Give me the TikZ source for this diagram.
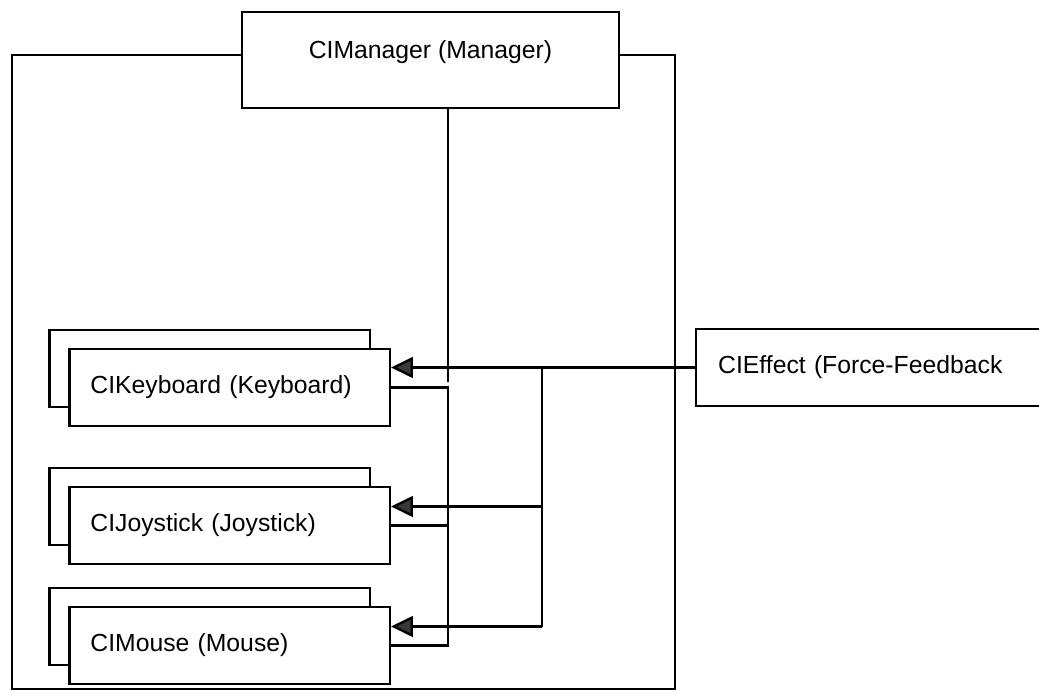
\documentclass[tikz,border=0pt]{standalone}
\usepackage{fontspec}
\setmainfont{Liberation Sans}
\usetikzlibrary{arrows.meta,positioning}

\tikzset{
    wire/.style={line width=1.7pt},
    feed/.style={wire,-{Triangle[length=0.55cm,width=0.52cm,fill=black!78]}},
    clsfront/.style={draw,line width=1.7pt,fill=white,
        minimum height=1.925cm,text width=6.96cm,inner xsep=0.525cm,
        align=left,font=\fontsize{17.6}{20}\selectfont},
    clsback/.style={draw,line width=1.7pt,fill=white,
        minimum width=8.0125cm,minimum height=1.925cm},
    mgrbox/.style={draw,line width=1.7pt,fill=white,
        minimum width=9.425cm,minimum height=2.4cm,text depth=14.5pt,
        font=\fontsize{17.6}{20}\selectfont},
    effbox/.style={draw,line width=1.7pt,fill=white,
        minimum height=1.925cm,text width=8.1cm,inner xsep=0.55cm,
        align=left,font=\fontsize{17.6}{20}\selectfont}
}

\begin{document}
\begin{tikzpicture}[scale=1]

\useasboundingbox (0,0) rectangle (25.975,17.4);

% Manager
\node[mgrbox] (mgr) at (10.7625,15.9) {CIManager (Manager)};

% Devices (stacked boxes)
\node[clsback] (kbdback) at (5.24,8.1875) {};
\node[clsfront] (kbd) at (5.74,7.7125) {CIKeyboard (Keyboard)};

\node[clsback] (joyback) at (5.24,4.7375) {};
\node[clsfront] (joy) at (5.74,4.2625) {CIJoystick (Joystick)};

\node[clsback] (mouseback) at (5.24,1.7375) {};
\node[clsfront] (mouse) at (5.74,1.2625) {CIMouse (Mouse)};

% Effect
\node[effbox,anchor=west] (eff) at (17.375,8.2125) {CIEffect (Force-Feedback};

% Outer loop round the devices
\coordinate (ll) at (0.3,0.175);
\coordinate (lr) at (16.875,0.175);
\draw[wire] (mgr.mid west) -| (ll) -- (lr) |- (mgr.mid east);

% Manager down to the devices
\coordinate (bus) at (11.2,7.85);
\draw[wire] (bus |- mgr.south) -- (bus);
\draw[wire] (kbd.east) -| (bus |- mouse.east) -- (mouse.east);
\draw[wire] (joy.east) -- (joy.east -| bus);

% Effect feeds
\coordinate (tap) at (13.55,0);
\coordinate (joyin) at ([yshift=0.475cm]joy.east);
\coordinate (mousein) at ([yshift=0.475cm]mouse.east);
\draw[feed] (eff.west) -- (eff.west -| kbd.east);
\draw[wire] (tap |- eff.west) -- (tap |- mousein);
\draw[feed] (tap |- joyin) -- (joyin);
\draw[feed] (tap |- mousein) -- (mousein);

\end{tikzpicture}
\end{document}
